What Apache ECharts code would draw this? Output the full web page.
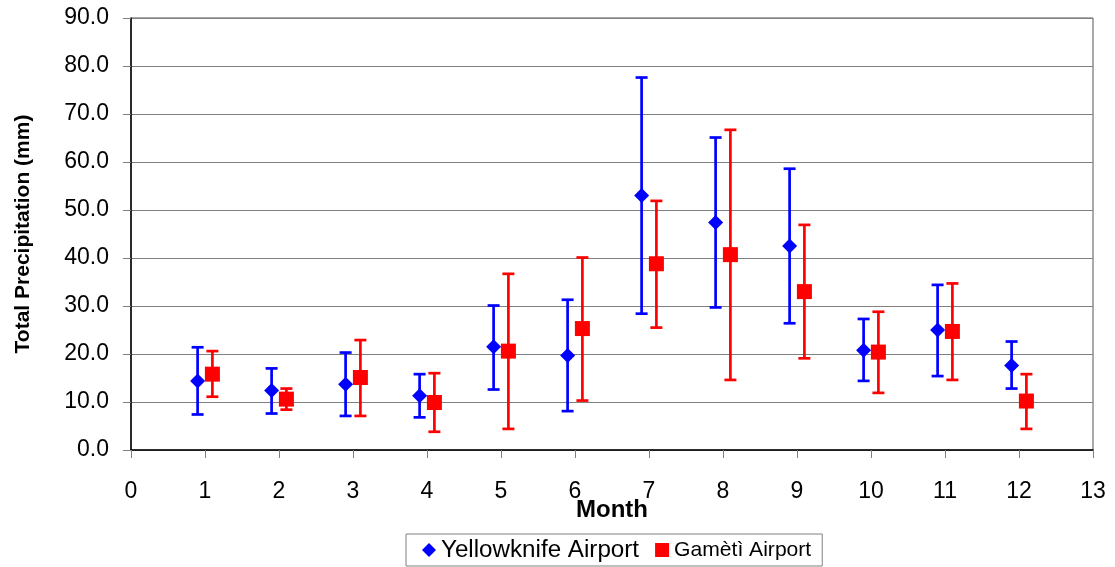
<!DOCTYPE html>
<html><head><meta charset="utf-8">
<script src="https://cdn.jsdelivr.net/npm/echarts@6/dist/echarts.min.js"></script>
<style>html,body{margin:0;padding:0;background:#fff}#c{width:1115px;height:567px}</style>
</head><body><div id="c"></div>
<script>
var months = [1,2,3,4,5,6,7,8,9,10,11,12];
var ykMean = [14.4,12.4,13.7,11.3,21.5,19.7,53.0,47.4,42.5,20.8,25.0,17.6];
var ykLow  = [7.4,7.6,7.1,6.8,12.6,8.1,28.4,29.7,26.4,14.4,15.4,12.8];
var ykHigh = [21.4,17.0,20.3,15.8,30.1,31.3,77.6,65.1,58.6,27.3,34.4,22.6];
var gaMean = [15.8,10.6,15.1,9.9,20.6,25.3,38.8,40.7,33.0,20.4,24.7,10.2];
var gaLow  = [11.1,8.4,7.1,3.8,4.4,10.3,25.5,14.6,19.1,11.9,14.6,4.4];
var gaHigh = [20.6,12.8,22.9,16.0,36.7,40.1,51.9,66.7,46.9,28.8,34.7,15.8];
var yTicks = ['0.0','10.0','20.0','30.0','40.0','50.0','60.0','70.0','80.0','90.0'];

var OFF = 0.1;
function pts(mean, off){ return months.map(function(m,i){ return [m+off, mean[i]]; }); }
function bars(lo, hi, off){ return months.map(function(m,i){ return [m+off, lo[i], hi[i]]; }); }
function errRender(color){
  return function(params, api){
    var x = api.value(0);
    var p1 = api.coord([x, api.value(1)]);
    var p2 = api.coord([x, api.value(2)]);
    var hw = 6;
    var st = {stroke: color, lineWidth: 2.7};
    return {type:'group', children:[
      {type:'line', shape:{x1:p1[0],y1:p1[1],x2:p2[0],y2:p2[1]}, style:st},
      {type:'line', shape:{x1:p1[0]-hw,y1:p1[1],x2:p1[0]+hw,y2:p1[1]}, style:st},
      {type:'line', shape:{x1:p2[0]-hw,y1:p2[1],x2:p2[0]+hw,y2:p2[1]}, style:st}
    ]};
  };
}
var chart = echarts.init(document.getElementById('c'));
chart.setOption({
  animation:false,
  textStyle:{fontFamily:'Arial, "Liberation Sans", sans-serif'},
  grid:{left:131, right:22, top:18, bottom:117, show:true, borderColor:'#555', borderWidth:1},
  xAxis:{type:'value', min:0, max:13, interval:1,
    name:'Month', nameLocation:'middle', nameGap:48, nameMoveOverlap:false,
    nameTextStyle:{fontSize:24, fontWeight:'bold', color:'#000'},
    axisLine:{onZero:false, lineStyle:{color:'#000', width:1.5}},
    axisTick:{show:true, length:8, lineStyle:{color:'#808080'}},
    axisLabel:{fontSize:23, color:'#000', margin:30},
    splitLine:{show:false}},
  yAxis:{type:'value', min:0, max:90, interval:10,
    name:'Total Precipitation (mm)', nameLocation:'middle', nameGap:97, nameMoveOverlap:false,
    nameTextStyle:{fontSize:21, fontWeight:'bold', color:'#000'},
    axisLine:{show:true, lineStyle:{color:'#000', width:1.5}},
    axisTick:{show:true, length:8, lineStyle:{color:'#808080'}},
    axisLabel:{fontSize:23, color:'#000', margin:22, formatter:function(v){ return yTicks[Math.round(v/10)]; }},
    splitLine:{show:true, lineStyle:{color:'#808080', width:1.2}}},
  legend:{left:406, top:534, padding:[4,11,4,16], itemGap:16,
    borderColor:'#808080', borderWidth:1, itemWidth:14, itemHeight:14,
    textStyle:{color:'#000', fontSize:24.2},
    data:[{name:'Yellowknife Airport', icon:'diamond'},
          {name:'Gamètì Airport', icon:'rect', textStyle:{fontSize:21.1}}]},
  series:[
    {type:'custom', name:'ykErr', renderItem:errRender('#0000FF'), data:bars(ykLow, ykHigh, -OFF), encode:{x:0, y:[1,2]}, z:2},
    {type:'custom', name:'gaErr', renderItem:errRender('#FF0000'), data:bars(gaLow, gaHigh, OFF), encode:{x:0, y:[1,2]}, z:2},
    {type:'scatter', name:'Yellowknife Airport', symbol:'diamond', symbolSize:15, itemStyle:{color:'#0000FF', opacity:1}, data:pts(ykMean, -OFF), z:5},
    {type:'scatter', name:'Gamètì Airport', symbol:'rect', symbolSize:15, itemStyle:{color:'#FF0000', opacity:1}, data:pts(gaMean, OFF), z:5}
  ]
});
</script></body></html>
